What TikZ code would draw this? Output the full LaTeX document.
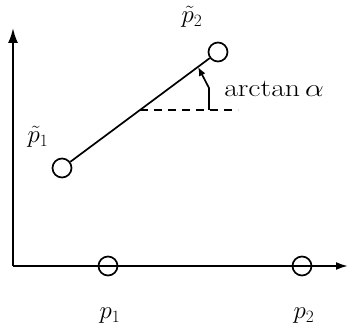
\documentclass[tikz,border=0pt]{standalone}
\usetikzlibrary{arrows.meta,calc}
\begin{document}
\begin{tikzpicture}[x=1pt,y=1pt,
  pt/.style={circle,draw,line width=1.7pt,minimum size=19pt,inner sep=0pt},
  lbl/.style={font=\fontsize{27}{32}\selectfont,inner sep=0pt},
  axis/.style={line width=2pt}]
\useasboundingbox (0,0) rectangle (349,335);
\coordinate (O) at (13,69);
\coordinate (YT) at (13,307);
\coordinate (XT) at (348,69);
\draw[axis,-{Latex[length=15pt,width=10pt]}] (O) -- (YT);
\draw[axis,-{Latex[length=12pt,width=8pt]}] (O) -- (XT);
\node[pt] (P1) at (108,69) {};
\node[pt] (P2) at (302,69) {};
\node[pt] (Q1) at (62,167) {};
\node[pt] (Q2) at (218,283) {};
\draw[line width=1.7pt] (Q1) -- (Q2);
\coordinate (D1) at ($(Q1)!{(225-167)/(283-167)}!(Q2)$);
\coordinate (D2) at (238,225);
\draw[line width=1.7pt,dash pattern=on 8pt off 6pt] (D1) -- (D2);
\coordinate (V0) at (209,225);
\coordinate (V1) at (209,247);
\coordinate (AT) at ($(Q1)!0.872!(Q2)$);
\draw[line width=1.7pt,-{Latex[length=9pt,width=7pt]}] (V0) -- (V1) -- (AT);
\node[lbl] (LQ1) at (38,198) {$\tilde{p}_1$};
\node[lbl] (LQ2) at (192,318) {$\tilde{p}_2$};
\node[lbl,font=\fontsize{29}{34}\selectfont,xscale=1.2] (LA) at (274,246) {$\arctan\alpha$};
\node[lbl] (LP1) at (110,19) {$p_1$};
\node[lbl] (LP2) at (304,19) {$p_2$};
\end{tikzpicture}
\end{document}
